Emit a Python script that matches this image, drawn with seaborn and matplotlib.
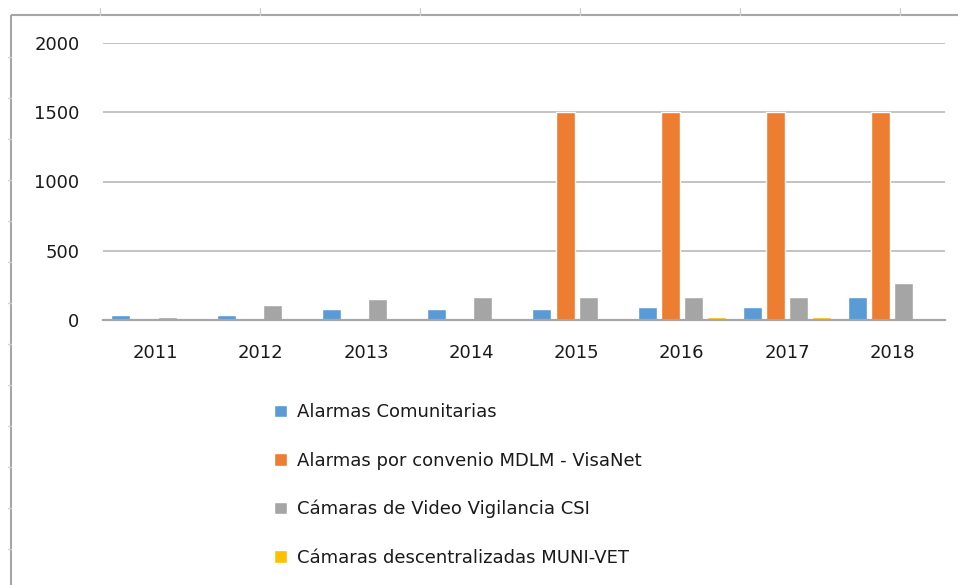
import matplotlib
matplotlib.use('Agg')
import matplotlib.pyplot as plt
import pandas as pd
import seaborn as sns
from matplotlib.lines import Line2D

years = ['2011', '2012', '2013', '2014', '2015', '2016', '2017', '2018']
series = ['Alarmas Comunitarias',
          'Alarmas por convenio MDLM - VisaNet',
          'Cámaras de Video Vigilancia CSI',
          'Cámaras descentralizadas MUNI-VET']
alarmas = [35, 35, 80, 80, 80, 95, 95, 165]
convenio = [0, 0, 0, 0, 1500, 1500, 1500, 1500]
camaras_csi = [20, 108, 150, 165, 165, 165, 165, 267]
muni_vet = [0, 0, 0, 0, 0, 20, 20, 0]
colors = ['#5B9BD5', '#ED7D31', '#A5A5A5', '#FFC000']

rows = []
for name, vals in zip(series, [alarmas, convenio, camaras_csi, muni_vet]):
    for y, v in zip(years, vals):
        rows.append({'year': y, 'serie': name, 'value': v})
df = pd.DataFrame(rows)

sns.set_style('white')
plt.rcParams['font.family'] = ['DejaVu Sans']

fig = plt.figure(figsize=(9.61, 5.85), dpi=100)

ax = fig.add_axes([103 / 961, 265 / 585, 842 / 961, 277 / 585])

sns.barplot(data=df, x='year', y='value', hue='serie', hue_order=series,
            palette=colors, saturation=1, width=0.88, gap=0.18, ax=ax, legend=True)

ax.set_ylim(0, 2000)
ax.set_yticks([0, 500, 1000, 1500, 2000])
ax.yaxis.grid(True, color='#b3b3b3', linewidth=1.1)
ax.set_axisbelow(True)
for s in ['top', 'right', 'left']:
    ax.spines[s].set_visible(False)
ax.spines['bottom'].set_color('#a6a6a6')
ax.spines['bottom'].set_linewidth(1.6)
ax.tick_params(axis='y', length=0, pad=17, labelsize=13, labelcolor='#1a1a1a')
ax.tick_params(axis='x', length=0, pad=17, labelsize=13, labelcolor='#1a1a1a')
ax.set_xlabel('')
ax.set_ylabel('')

handles, labels = ax.get_legend_handles_labels()
ax.get_legend().remove()
fig.legend(handles, labels, loc='upper left', bbox_to_anchor=(258 / 961, 1 - 387 / 585),
           frameon=False, fontsize=13, handlelength=0.7, handleheight=0.7,
           handletextpad=0.55, labelspacing=1.68, labelcolor='#1a1a1a')

# outer chart frame: left and top edges only, drawn as two separate lines
top_y = 1 - 15 / 585
fig.add_artist(Line2D([11 / 961, 11 / 961], [0, top_y], color='#a6a6a6', lw=1.5,
                      solid_capstyle='butt'))
fig.add_artist(Line2D([11 / 961, 958 / 961], [top_y, top_y], color='#a6a6a6', lw=1.5,
                      solid_capstyle='butt'))
for x in [100, 260, 420, 580, 740, 900]:
    fig.add_artist(Line2D([x / 961, x / 961], [1 - 8 / 585, top_y], color='#d0d0d0', lw=1))
for y in range(57, 585, 41):
    fig.add_artist(Line2D([8 / 961, 11 / 961], [1 - y / 585, 1 - y / 585], color='#d0d0d0', lw=1))

fig.savefig('out.png', dpi=100)
